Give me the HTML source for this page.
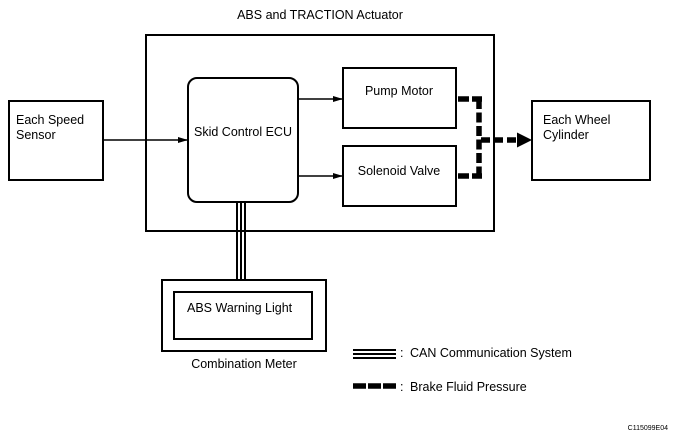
<!DOCTYPE html>
<html><head><style>
body{margin:0;background:#fff;}
svg text{font-family:"Liberation Sans",sans-serif;fill:#000;}
</style></head><body>
<svg width="673" height="439" viewBox="0 0 673 439" xmlns="http://www.w3.org/2000/svg">
<defs>
<marker id="a" markerWidth="10" markerHeight="6" refX="10" refY="3" orient="auto" markerUnits="userSpaceOnUse"><path d="M0,0 L10,3 L0,6z" fill="#000"/></marker>
</defs>
<g fill="none" stroke="#000" stroke-width="2">
<rect x="146" y="35" width="348" height="196"/>
<rect x="188" y="78" width="110" height="124" rx="9"/>
<rect x="343" y="68" width="113" height="60"/>
<rect x="343" y="146" width="113" height="60"/>
<rect x="9" y="101" width="94" height="79"/>
<rect x="532" y="101" width="118" height="79"/>
<rect x="162" y="280" width="164" height="71"/>
<rect x="174" y="292" width="138" height="47"/>
</g>
<g stroke="#000" stroke-width="1.4">
<line x1="103" y1="140" x2="188" y2="140" marker-end="url(#a)"/>
<line x1="298" y1="99" x2="343" y2="99" marker-end="url(#a)"/>
<line x1="298" y1="176" x2="343" y2="176" marker-end="url(#a)"/>
</g>
<g stroke="#000" stroke-width="2">
<line x1="237" y1="202" x2="237" y2="280"/>
<line x1="241" y1="202" x2="241" y2="280"/>
<line x1="245" y1="202" x2="245" y2="280"/>
<line x1="353" y1="350" x2="396" y2="350"/>
<line x1="353" y1="354" x2="396" y2="354"/>
<line x1="353" y1="358" x2="396" y2="358"/>
</g>
<g fill="none" stroke="#000" stroke-width="5.5">
<line x1="458" y1="99" x2="469" y2="99"/>
<line x1="472" y1="99" x2="482" y2="99"/>
<line x1="458" y1="176" x2="469" y2="176"/>
<line x1="472" y1="176" x2="482" y2="176"/>
<line x1="479" y1="99" x2="479" y2="176" stroke-dasharray="10,3.5"/>
<line x1="481" y1="140" x2="520" y2="140" stroke-dasharray="9,4"/>
<line x1="353" y1="386" x2="396" y2="386" stroke-dasharray="13,2"/>
</g>
<path d="M517,132.5 L532,140 L517,147.5z" fill="#000"/>
<g font-size="12.5">
<text x="320" y="19" text-anchor="middle">ABS and TRACTION Actuator</text>
<text x="16" y="124">Each Speed</text>
<text x="16" y="139">Sensor</text>
<text x="543" y="124">Each Wheel</text>
<text x="543" y="139">Cylinder</text>
<text x="243" y="136" text-anchor="middle">Skid Control ECU</text>
<text x="399" y="95" text-anchor="middle">Pump Motor</text>
<text x="399" y="175" text-anchor="middle">Solenoid Valve</text>
<text x="187" y="312">ABS Warning Light</text>
<text x="244" y="368" text-anchor="middle">Combination Meter</text>
<text x="400" y="357">:</text><text x="410" y="357">CAN Communication System</text>
<text x="400" y="391">:</text><text x="410" y="391">Brake Fluid Pressure</text>
</g>
<text x="668" y="430" font-size="7" text-anchor="end">C115099E04</text>
</svg>
</body></html>
